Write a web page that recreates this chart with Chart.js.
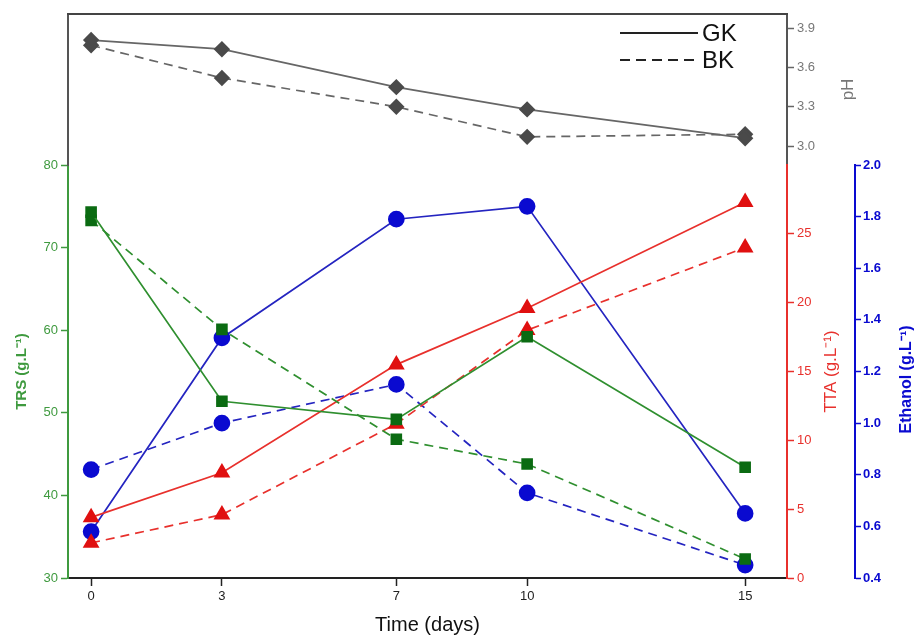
<!DOCTYPE html>
<html>
<head>
<meta charset="utf-8">
<script src="https://cdn.jsdelivr.net/npm/chart.js@4.4.1/dist/chart.umd.min.js"></script>
<style>
  html, body { margin: 0; padding: 0; background: #fff; }
  #wrap { width: 914px; height: 637px; }
</style>
</head>
<body>
<div id="wrap"><canvas id="chart"></canvas></div>
<script>
// sampling days
const days = [0, 3, 7, 10, 15];
const dayTicks = [0, 3, 7, 10, 15];

// pH
const phGK = [3.81, 3.74, 3.45, 3.28, 3.06];
const phBK = [3.77, 3.52, 3.30, 3.07, 3.09];
// total reducing sugar
const trsGK = [74.3, 51.4, 49.2, 59.2, 43.4];
const trsBK = [73.3, 60.1, 46.8, 43.8, 32.3];
// total titratable acidity
const ttaGK = [4.4, 7.65, 15.5, 19.6, 27.3];
const ttaBK = [2.55, 4.6, 11.2, 18.0, 24.0];
// ethanol
const ethGK = [0.58, 1.33, 1.79, 1.84, 0.65];
const ethBK = [0.82, 1.00, 1.15, 0.73, 0.45];

const phTicks = [3.0, 3.3, 3.6, 3.9];
const trsTicks = [30, 40, 50, 60, 70, 80];
const ttaTicks = [0, 5, 10, 15, 20, 25];
const ethTicks = [0.4, 0.6, 0.8, 1.0, 1.2, 1.4, 1.6, 1.8, 2.0];

const FONT = 'Arial, "Liberation Sans", Helvetica, sans-serif';
const GREEN = '#2f8f2f', GREEN_DARK = '#0b6b12', GREEN_TXT = '#3f9a3f';
const RED = '#e8302c', RED_DARK = '#e01010';
const BLUE = '#2424c0', BLUE_DARK = '#0a0ad0';
const GRAY = '#666666', GRAY_DARK = '#4a4a4a';

const pts = ys => days.map((d, i) => ({ x: d, y: ys[i] }));

function series(label, ys, axis, line, mark, style, radius, dashed) {
  return {
    label: label,
    data: pts(ys),
    yAxisID: axis,
    borderColor: line,
    backgroundColor: mark,
    pointBackgroundColor: mark,
    pointBorderColor: mark,
    pointStyle: style,
    pointRadius: radius,
    pointHoverRadius: radius,
    borderWidth: 1.7,
    borderDash: dashed ? [9, 6] : [],
    tension: 0,
    fill: false
  };
}

const fixTicks = list => s => { s.ticks = list.map(v => ({ value: v })); };
const fixWidth = w => s => { s.width = w; s.paddingTop = 0; s.paddingBottom = 0; };

function yAxis(opts) {
  return Object.assign({
    type: 'linear',
    grid: { drawOnChartArea: false, color: opts.color, tickLength: 7, tickWidth: 1.5 },
    border: { color: opts.color, width: 2 },
    ticks: { color: opts.color, font: { family: FONT, size: 13 }, padding: 3 }
  }, opts.extra);
}

// axis titles on the right read bottom-to-top, so they are drawn here
const rightTitles = {
  id: 'rightTitles',
  afterDraw(chart) {
    const ctx = chart.ctx;
    const put = (text, x, y, color, font) => {
      ctx.save();
      ctx.translate(x, y);
      ctx.rotate(-Math.PI / 2);
      ctx.fillStyle = color;
      ctx.font = font;
      ctx.textAlign = 'center';
      ctx.textBaseline = 'middle';
      ctx.fillText(text, 0, 0);
      ctx.restore();
    };
    const ph = chart.scales.yPH, tta = chart.scales.yTTA, eth = chart.scales.yEth;
    put('pH', ph.left + 61, (ph.top + ph.bottom) / 2, '#777', '17px ' + FONT);
    put('TTA (g.L\u207B\u00B9)', tta.left + 44, (tta.top + tta.bottom) / 2, RED, '17px ' + FONT);
    put('Ethanol (g.L\u207B\u00B9)', eth.left + 52, (eth.top + eth.bottom) / 2 + 8, BLUE_DARK, 'bold 16px ' + FONT);

    // top frame + legend
    const a = chart.chartArea;
    ctx.save();
    ctx.strokeStyle = '#444';
    ctx.lineWidth = 2;
    ctx.beginPath();
    ctx.moveTo(a.left - 1, a.top);
    ctx.lineTo(a.right + 1, a.top);
    ctx.stroke();

    ctx.strokeStyle = '#222';
    ctx.lineWidth = 2;
    ctx.font = '24px ' + FONT;
    ctx.fillStyle = '#111';
    ctx.textBaseline = 'middle';
    [['GK', [], 33], ['BK', [10, 6], 60]].forEach(([txt, dash, y]) => {
      ctx.setLineDash(dash);
      ctx.beginPath();
      ctx.moveTo(620, y);
      ctx.lineTo(698, y);
      ctx.stroke();
      ctx.setLineDash([]);
      ctx.fillText(txt, 702, y + 1);
    });
    ctx.restore();
  }
};

new Chart(document.getElementById('chart'), {
  type: 'line',
  data: {
    datasets: [
      series('pH GK', phGK, 'yPH', GRAY, GRAY_DARK, 'rectRot', 7, false),
      series('pH BK', phBK, 'yPH', GRAY, GRAY_DARK, 'rectRot', 7, true),
      series('TRS GK', trsGK, 'yTRS', GREEN, GREEN_DARK, 'rect', 7, false),
      series('TRS BK', trsBK, 'yTRS', GREEN, GREEN_DARK, 'rect', 7, true),
      series('TTA GK', ttaGK, 'yTTA', RED, RED_DARK, 'triangle', 8, false),
      series('TTA BK', ttaBK, 'yTTA', RED, RED_DARK, 'triangle', 8, true),
      series('Ethanol GK', ethGK, 'yEth', BLUE, BLUE_DARK, 'circle', 7.5, false),
      series('Ethanol BK', ethBK, 'yEth', BLUE, BLUE_DARK, 'circle', 7.5, true)
    ]
  },
  options: {
    responsive: true,
    maintainAspectRatio: false,
    animation: false,
    layout: { padding: { top: 14, left: 0, right: 0, bottom: 0 } },
    plugins: { legend: { display: false }, tooltip: { enabled: false } },
    scales: {
      x: {
        type: 'linear',
        position: 'bottom',
        min: -0.53,
        max: 15.96,
        afterBuildTicks: fixTicks(dayTicks),
        ticks: { color: '#222', font: { family: FONT, size: 13 }, padding: 3 },
        grid: { drawOnChartArea: false, color: '#222', tickLength: 8, tickWidth: 1.5 },
        border: { color: '#222', width: 2 },
        title: { display: true, text: 'Time (days)', color: '#111', font: { family: FONT, size: 20 }, padding: { top: 4, bottom: 0 } },
        afterFit: s => { s.height = 59; s.paddingLeft = 0; s.paddingRight = 0; }
      },
      // left stack is placed in reverse index order, so TRS comes first here
      yTRS: yAxis({ color: GREEN_TXT, extra: {
        position: 'left', stack: 'left', stackWeight: 413, min: 30, max: 80,
        afterBuildTicks: fixTicks(trsTicks),
        title: { display: true, text: 'TRS (g.L\u207B\u00B9)', color: GREEN_TXT, font: { family: FONT, size: 15, weight: 'bold' }, padding: { top: 13, bottom: 0 } },
        afterFit: fixWidth(68)
      } }),
      yTop: {
        type: 'linear', position: 'left', stack: 'left', stackWeight: 151, min: 0, max: 1,
        ticks: { display: false },
        grid: { display: false },
        border: { color: '#555', width: 2 },
        afterFit: fixWidth(68)
      },
      yPH: yAxis({ color: '#777', extra: {
        position: 'right', stack: 'right', stackWeight: 151, min: 2.855, max: 4.009,
        afterBuildTicks: fixTicks(phTicks),
        ticks: { color: '#777', font: { family: FONT, size: 13 }, padding: 3, callback: v => v.toFixed(1) },
        grid: { drawOnChartArea: false, color: '#666', tickLength: 7, tickWidth: 1.5 },
        border: { color: '#555', width: 2 },
        afterFit: fixWidth(68)
      } }),
      yTTA: yAxis({ color: RED, extra: {
        position: 'right', stack: 'right', stackWeight: 413, min: 0, max: 30,
        afterBuildTicks: fixTicks(ttaTicks),
        afterFit: fixWidth(68)
      } }),
      yEthTop: {
        type: 'linear', position: 'right', stack: 'eth', stackWeight: 151, min: 0, max: 1,
        ticks: { display: false },
        grid: { display: false },
        border: { display: false },
        afterFit: fixWidth(59)
      },
      yEth: yAxis({ color: BLUE_DARK, extra: {
        position: 'right', stack: 'eth', stackWeight: 413, min: 0.4, max: 2.0,
        afterBuildTicks: fixTicks(ethTicks),
        ticks: { color: BLUE_DARK, font: { family: FONT, size: 13, weight: 'bold' }, padding: 2, callback: v => v.toFixed(1) },
        grid: { drawOnChartArea: false, color: BLUE_DARK, tickLength: 6, tickWidth: 1.5 },
        afterFit: fixWidth(59)
      } })
    }
  },
  plugins: [rightTitles]
});
</script>
</body>
</html>
